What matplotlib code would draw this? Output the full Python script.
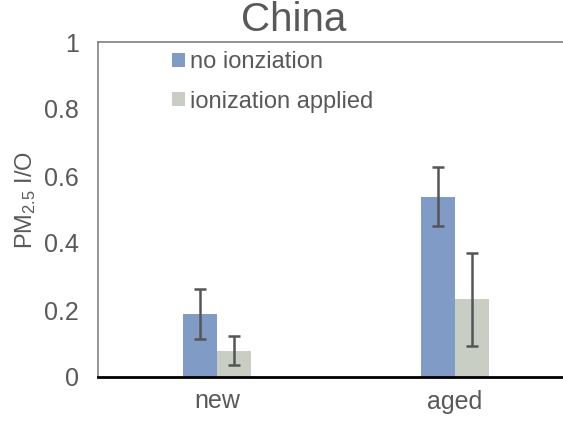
import matplotlib.pyplot as plt
import numpy as np

plt.rcParams['font.family'] = ['Liberation Sans', 'DejaVu Sans']
plt.rcParams['mathtext.fontset'] = 'custom'
plt.rcParams['mathtext.rm'] = 'Liberation Sans'
plt.rcParams['mathtext.it'] = 'Liberation Sans'

# data
categories = ['new', 'aged']
no_ion = [0.188, 0.538]
no_ion_err = [0.075, 0.088]
ion = [0.079, 0.232]
ion_err = [0.042, 0.139]

blue = '#7F9BC6'
grey = '#C8CEC4'
txt = '#595959'

fig = plt.figure(figsize=(5.63, 4.21), dpi=100)
# axes right edge runs past the image edge like the original
ax = fig.add_axes([98 / 563, 1 - 377 / 421, 476 / 563, 335 / 421])

x = np.arange(len(categories))
w = 0.143
ekw = dict(ecolor='#555555', elinewidth=1.8, capsize=4.5, capthick=1.8)
ax.bar(x - w / 2, no_ion, w, color=blue, yerr=no_ion_err, error_kw=ekw,
       label='no ionziation')
ax.bar(x + w / 2, ion, w, color=grey, yerr=ion_err, error_kw=ekw,
       label='ionization applied')

ax.set_xlim(-0.5, 1.5)
ax.set_ylim(0, 1)
ax.set_yticks([0, 0.2, 0.4, 0.6, 0.8, 1])
ax.set_yticklabels(['0', '0.2', '0.4', '0.6', '0.8', '1'])
ax.set_xticks(x)
ax.set_xticklabels(categories)
ax.tick_params(length=0, labelsize=18, colors=txt)
ax.tick_params(axis='y', pad=14)
ax.tick_params(axis='x', pad=9)

for s in ['left', 'top']:
    ax.spines[s].set_color('#808080')
    ax.spines[s].set_linewidth(1.2)
ax.spines['right'].set_visible(False)
ax.spines['bottom'].set_color('black')
ax.spines['bottom'].set_linewidth(2)

ax.set_ylabel('PM$_{2.5}$ I/O', fontsize=17, color=txt)
ax.yaxis.set_label_coords(-0.126, 0.528)
fig.text(294 / 563, 1 - 20 / 421, 'China', fontsize=29, color=txt,
         ha='center', va='center')

ax.legend(loc='upper left', bbox_to_anchor=(172 / 563, 1 - 51 / 421),
          bbox_transform=fig.transFigure, frameon=False, fontsize=17,
          handlelength=0.55, handleheight=0.55, handletextpad=0.2,
          labelspacing=0.75, labelcolor=txt, borderaxespad=0, borderpad=0)

fig.savefig('out.png', dpi=100)
